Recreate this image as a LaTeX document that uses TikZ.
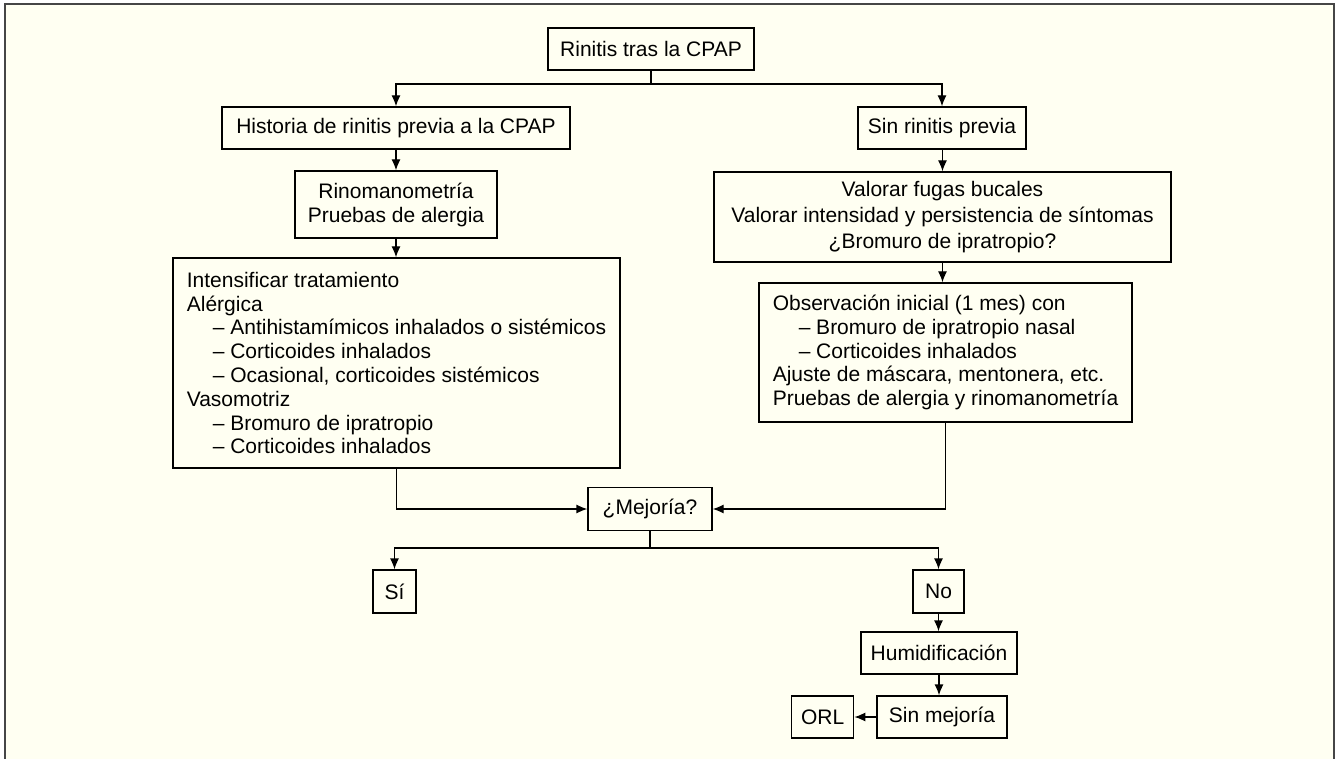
\documentclass[tikz,border=0pt]{standalone}
\usepackage{fontspec}
\setmainfont{Liberation Sans}
\usepackage{xcolor}
\usetikzlibrary{arrows.meta, positioning}

\definecolor{bgcream}{RGB}{255,255,242}
\definecolor{framegray}{RGB}{70,70,70}
\newcommand{\guion}{\hspace*{26pt}-- }

\begin{document}
\begin{tikzpicture}[x=1pt, y=-1pt, font=\fontsize{21}{23.8}\selectfont]
	\tikzstyle{box} = [rectangle, draw=black, line width=1.3pt, inner sep=0pt, align=center]
	\tikzstyle{listbox} = [box, align=left]
	\tikzstyle{line} = [line width=1.3pt]
	\tikzstyle{arrow} = [line width=1.3pt, -{Latex[length=11pt, width=9pt]}]

	% Background
	\useasboundingbox (0,0) rectangle (1336,759);
	\fill [white] (0,0) rectangle (1336,759);
	\draw [framegray, line width=2pt, fill=bgcream] (5,4) rectangle (1334,780);

	% Nodes
	\node (rinitis) [box, minimum width=206pt, minimum height=42pt] at (651,49) {Rinitis tras la CPAP};

	\node (historia) [box, minimum width=348pt, minimum height=42pt] at (396,128) {Historia de rinitis previa a la CPAP};
	\node (sinprevia) [box, minimum width=168pt, minimum height=42pt] at (942,128) {Sin rinitis previa};

	\node (rino) [box, minimum width=202pt, minimum height=67pt, font=\fontsize{21}{24}\selectfont] at (396,204.5) {Rinomanometría\\ Pruebas de alergia};
	\node (valorar) [box, minimum width=457pt, minimum height=90pt, font=\fontsize{21}{25.8}\selectfont] at (942.5,217) {Valorar fugas bucales\\ Valorar intensidad y persistencia de síntomas\\ ¿Bromuro de ipratropio?};

	\node (intens) [listbox, minimum width=447pt, minimum height=210pt] at (396.5,363) {Intensificar tratamiento\\ Alérgica\\ \guion Antihistamímicos inhalados o sistémicos\\ \guion Corticoides inhalados\\ \guion Ocasional, corticoides sistémicos\\ Vasomotriz\\ \guion Bromuro de ipratropio\\ \guion Corticoides inhalados};
	\node (observ) [listbox, minimum width=373pt, minimum height=139pt] at (945.5,352.5) {Observación inicial (1 mes) con\\ \guion Bromuro de ipratropio nasal\\ \guion Corticoides inhalados\\ Ajuste de máscara, mentonera, etc.\\ Pruebas de alergia y rinomanometría};

	\node (mejoria) [box, minimum width=124pt, minimum height=43pt] at (650,509) {¿Mejoría?};

	\node (si) [box, minimum width=43pt, minimum height=43pt] at (394.5,591.5) {Sí};
	\node (no) [box, minimum width=51pt, minimum height=43pt] at (938.5,591.5) {No};
	\node (humid) [box, minimum width=156pt, minimum height=42pt] at (939,653) {Humidificación};
	\node (sinmej) [box, minimum width=130pt, minimum height=42pt] at (942,717) {Sin mejoría};
	\node (orl) [box, minimum width=62pt, minimum height=42pt, left=22pt of sinmej] {ORL};

	\coordinate (split1) at (651,84);
	\coordinate (split2) at (650,548);

	% Arrows
	\draw [line] (rinitis) -- (split1);
	\draw [arrow] (split1) -| (historia);
	\draw [arrow] (split1) -| (sinprevia);
	\draw [arrow] (rino.north |- historia.south) -- (rino);
	\draw [arrow] (rino) -- (rino |- intens.north);
	\draw [arrow] (valorar.north |- sinprevia.south) -- (valorar);
	\draw [arrow] (valorar) -- (valorar |- observ.north);
	\draw [arrow] (intens.south) |- (mejoria.west);
	\draw [arrow] (observ.south) |- (mejoria.east);
	\draw [line] (mejoria) -- (split2);
	\draw [arrow] (split2) -| (si);
	\draw [arrow] (split2) -| (no);
	\draw [arrow] (no.south) -- (no.south |- humid.north);
	\draw [arrow] (humid.south) -- (humid.south |- sinmej.north);
	\draw [arrow] (sinmej) -- (orl);

\end{tikzpicture}
\end{document}
